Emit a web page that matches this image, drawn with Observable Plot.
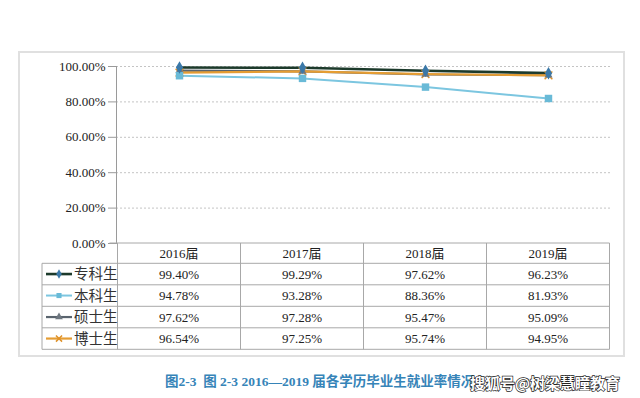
<!DOCTYPE html>
<html>
<head>
<meta charset="utf-8">
<script src="https://cdn.jsdelivr.net/npm/d3@7"></script>
<script src="https://cdn.jsdelivr.net/npm/@observablehq/plot@0.6"></script>
<style>
  html, body { margin: 0; padding: 0; background: #fff; }
  #chart { width: 640px; height: 398px; overflow: hidden; }
</style>
</head>
<body>
<div id="chart"></div>
<script>
// ---- data ----
const years = ["2016届", "2017届", "2018届", "2019届"];
const seriesNames = ["专科生", "本科生", "硕士生", "博士生"];
const zhuanke = [99.40, 99.29, 97.62, 96.23];
const benke = [94.78, 93.28, 88.36, 81.93];
const shuoshi = [97.62, 97.28, 95.47, 95.09];
const boshi = [96.54, 97.25, 95.74, 94.95];
const yTicks = [0, 20, 40, 60, 80, 100];
const captionText = "图2-3  图 2-3 2016—2019 届各学历毕业生就业率情况";
const watermarkText = "搜狐号@树梁慧瞳教育";

// ---- styles ----
const lineColors = ["#1c3a2b", "#7cc6e0", "#5a646e", "#e59d33"];
const markColors = ["#3a78a8", "#69bad7", "#6e7780", "#df9128"];
const symbols = ["diamond", "square", "triangle", "times"];
const symR = [3.8, 4.2, 3.0, 3.6];
const lineWidths = [2.6, 2, 2.2, 2.2];

const values = [zhuanke, benke, shuoshi, boshi];
const rows = seriesNames.flatMap((s, i) => years.map((y, j) => ({series: s, year: y, value: values[i][j]})));
const serif = "Liberation Serif, Times New Roman, Noto Sans CJK SC, serif";

const marks = [
  Plot.gridY(yTicks.filter(d => d > 0), {stroke: "#c4c4c4", strokeOpacity: 1, strokeDasharray: "2,2"}),
  Plot.frame({anchor: "left", stroke: "#9a9a9a"}),
  Plot.axisY(yTicks, {tickSize: 8, tickPadding: 3, tickFormat: d => d.toFixed(2) + "%", stroke: "#9a9a9a", fill: "#222", fontSize: 13, label: null, fontFamily: serif})
];
seriesNames.forEach((s, i) => {
  const d = rows.filter(r => r.series === s);
  marks.push(Plot.line(d, {x: "year", y: "value", stroke: lineColors[i], strokeWidth: lineWidths[i]}));
});
[3, 2, 1, 0].forEach(i => {
  const s = seriesNames[i];
  const d = rows.filter(r => r.series === s);
  const isCross = symbols[i] === "times";
  marks.push(Plot.dot(d, {x: "year", y: "value", symbol: () => symbols[i], r: symR[i],
    fill: isCross ? "none" : markColors[i], stroke: isCross ? markColors[i] : "none", strokeWidth: 1.5}));
});

const plot = Plot.plot({
  width: 640,
  height: 398,
  marginLeft: 116,
  marginRight: 30,
  marginTop: 66,
  marginBottom: 155,
  style: {fontFamily: serif, fontSize: "13px", color: "#222", background: "#fff"},
  x: {type: "point", domain: years, padding: 0.5, axis: null},
  y: {domain: [0, 100], axis: null},
  symbol: {type: "identity"},
  marks
});
document.getElementById("chart").append(plot);

// ---- data table + legend (positions from the plot's scales) ----
const svg = d3.select(plot);
const sx = plot.scale("x"), sy = plot.scale("y");
const centers = years.map(y => sx.apply(y));
const step = centers[1] - centers[0];
const tLeft = centers[0] - step / 2, tRight = centers[centers.length - 1] + step / 2;
const tTop = sy.apply(0);
const headH = 20.3, rowH = 21.5;
const legLeft = 42;
const g = svg.append("g").attr("text-anchor", "start");

g.append("rect").attr("x", 19).attr("y", 52).attr("width", 605).attr("height", 304)
  .attr("fill", "none").attr("stroke", "#e0e0e0").attr("stroke-width", 2);

const lineC = "#a8a8a8";
g.append("line").attr("x1", tLeft - 8).attr("x2", tRight).attr("y1", tTop).attr("y2", tTop).attr("stroke", lineC);
for (let k = 0; k <= seriesNames.length; k++) {
  const yy = tTop + headH + k * rowH;
  g.append("line").attr("x1", legLeft).attr("x2", tRight).attr("y1", yy).attr("y2", yy).attr("stroke", lineC);
}
const tBottom = tTop + headH + seriesNames.length * rowH;
[tLeft, ...centers.map(c => c + step / 2)].forEach(x => {
  g.append("line").attr("x1", x).attr("x2", x).attr("y1", tTop).attr("y2", tBottom).attr("stroke", lineC);
});
g.append("line").attr("x1", legLeft).attr("x2", legLeft).attr("y1", tTop + headH).attr("y2", tBottom).attr("stroke", lineC);

years.forEach((y, j) => {
  g.append("text").attr("x", centers[j]).attr("y", tTop + headH / 2).attr("dy", "0.36em")
    .attr("text-anchor", "middle").attr("font-family", serif).attr("font-size", 13).attr("fill", "#222").text(y);
});
seriesNames.forEach((s, i) => {
  const cy = tTop + headH + i * rowH + rowH / 2;
  values[i].forEach((v, j) => {
    g.append("text").attr("x", centers[j]).attr("y", cy).attr("dy", "0.36em")
      .attr("text-anchor", "middle").attr("font-family", serif).attr("font-size", 13).attr("fill", "#222")
      .text(v.toFixed(2) + "%");
  });
  g.append("line").attr("x1", 46).attr("x2", 72).attr("y1", cy).attr("y2", cy)
    .attr("stroke", lineColors[i]).attr("stroke-width", lineWidths[i]);
  const sym = d3.symbol().type({diamond: d3.symbolDiamond, square: d3.symbolSquare, triangle: d3.symbolTriangle, times: d3.symbolTimes}[symbols[i]]).size(26);
  const isCross = symbols[i] === "times";
  g.append("path").attr("d", sym()).attr("transform", `translate(59,${cy})`)
    .attr("fill", isCross ? "none" : markColors[i]).attr("stroke", isCross ? markColors[i] : "none").attr("stroke-width", 1.5);
  g.append("text").attr("x", 74).attr("y", cy).attr("dy", "0.36em").attr("text-anchor", "start")
    .attr("font-family", "Noto Sans CJK SC, sans-serif").attr("font-size", 14.5).attr("fill", "#333").text(s);
});

g.append("text").attr("x", 165).attr("y", 386).attr("text-anchor", "start")
  .attr("font-family", serif).attr("font-weight", "bold").attr("font-size", 13.5).attr("fill", "#3684b8")
  .text(captionText);
g.append("text").attr("x", 470).attr("y", 389).attr("text-anchor", "start")
  .attr("font-family", "Noto Sans CJK SC, sans-serif").attr("font-weight", "bold").attr("font-size", 15)
  .attr("fill", "#fff").attr("stroke", "#222").attr("stroke-width", 1.3).attr("paint-order", "stroke")
  .text(watermarkText);
</script>
</body>
</html>
